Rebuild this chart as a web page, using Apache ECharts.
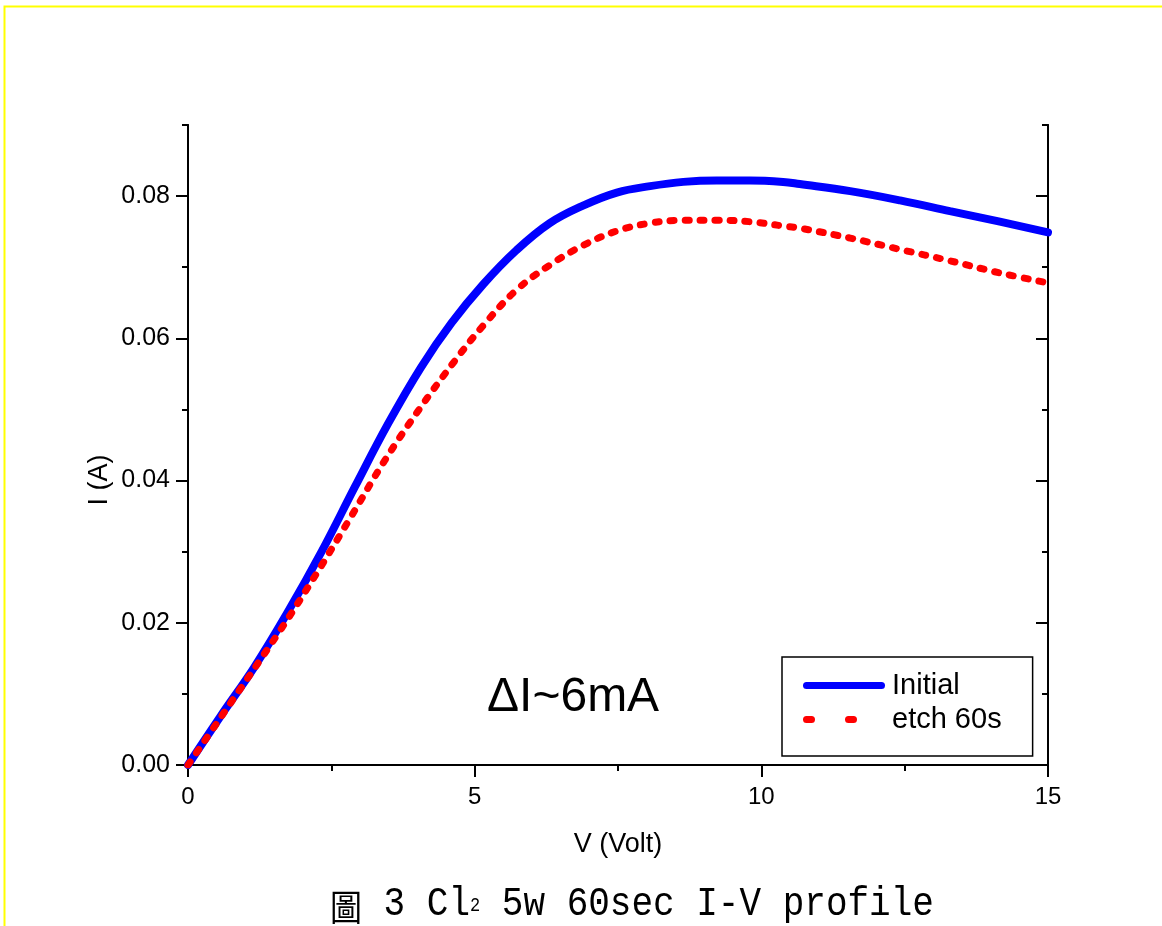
<!DOCTYPE html>
<html>
<head>
<meta charset="utf-8">
<script src="https://cdn.jsdelivr.net/npm/echarts@6/dist/echarts.min.js"></script>
<style>html,body{margin:0;padding:0;background:#fff}#c{width:1162px;height:926px}</style>
</head>
<body>
<div id="c"></div>
<script>
// ---- data ----
const seriesNames = ['Initial', 'etch 60s'];
const initialV = [0, 0.58, 1.16, 1.74, 2.33, 2.91, 3.49, 4.07, 4.60, 5.15, 5.73, 6.31, 6.90, 7.48, 8.06, 8.64, 9.22, 9.80, 10.38, 10.67, 11.55, 12.42, 13.29, 14.16, 15];
const initialI = [0, 0.0070, 0.0138, 0.0215, 0.0300, 0.0391, 0.0480, 0.0560, 0.0622, 0.0676, 0.0724, 0.0762, 0.0787, 0.0805, 0.0814, 0.0820, 0.0822, 0.0822, 0.0820, 0.0817, 0.0807, 0.0794, 0.0779, 0.0764, 0.0749];
const etchV = [0, 0.58, 1.63, 2.24, 2.82, 3.43, 4.04, 4.65, 5.15, 5.73, 6.31, 6.90, 7.48, 8.06, 8.64, 9.22, 9.80, 10.38, 10.67, 11.55, 12.42, 13.29, 14.16, 15];
const etchI = [0, 0.0068, 0.0192, 0.0269, 0.0346, 0.0428, 0.0501, 0.0568, 0.0618, 0.0668, 0.0703, 0.0731, 0.0751, 0.0762, 0.0766, 0.0766, 0.0764, 0.0758, 0.0755, 0.0741, 0.0725, 0.0709, 0.0692, 0.0678];
const yMajorTicks = [0, 0.02, 0.04, 0.06, 0.08];
const yMinorTicks = [0.01, 0.03, 0.05, 0.07, 0.09];
const xAxisName = 'V (Volt)';
const yAxisName = 'I (A)';
const annotation = '\u0394I~6mA';
const caption = ['圖', ' 3 Cl', '2', ' 5w 60sec I-V profile'];

const zip = (a, b) => a.map((v, i) => [v, b[i]]);
const FONT = 'Liberation Sans, Arial, sans-serif';
const lineBlack = { show: true, lineStyle: { color: '#000', width: 2 } };

function xAx(pos, inside, showLabel, showName) {
  return {
    type: 'value', position: pos, min: 0, max: 15, interval: 5, gridIndex: 0,
    axisLine: lineBlack,
    axisTick: { show: true, inside: inside, length: 12, lineStyle: { color: '#000', width: 2 } },
    minorTick: { show: true, splitNumber: 2, length: 6, lineStyle: { color: '#000', width: 2 } },
    axisLabel: { show: showLabel, fontSize: 24, color: '#000', fontFamily: FONT, margin: 20 },
    splitLine: { show: false }, minorSplitLine: { show: false },
    name: showName ? xAxisName : '', nameLocation: 'middle', nameGap: 66, nameMoveOverlap: false,
    nameTextStyle: { fontSize: 27, color: '#000', fontFamily: FONT }
  };
}
function yAx(pos, inside, major, showLabel) {
  return {
    type: 'value', position: pos, min: 0, max: 0.09, interval: 0.01, gridIndex: 0,
    axisLine: lineBlack,
    axisTick: { show: true, inside: inside, length: major ? 12 : 6, customValues: major ? yMajorTicks : yMinorTicks, lineStyle: { color: '#000', width: 2 } },
    axisLabel: { show: showLabel, customValues: yMajorTicks, fontSize: 25, color: '#000', fontFamily: FONT, margin: 18,
      formatter: v => v.toFixed(2) },
    splitLine: { show: false }
  };
}

const chart = echarts.init(document.getElementById('c'), null, { renderer: 'canvas' });
chart.setOption({
  backgroundColor: '#fff',
  animation: false,
  grid: { left: 188, right: 114, top: 125, bottom: 161, containLabel: false },
  xAxis: [xAx('bottom', false, true, true), xAx('top', true, false, false)],
  yAxis: [yAx('left', false, true, true), yAx('left', false, false, false),
          yAx('right', true, true, false), yAx('right', true, false, false)],
  legend: {
    left: 782, top: 657,
    orient: 'vertical', itemWidth: 82, itemHeight: 7, itemGap: 5,
    padding: [14, 31, 22, 21],
    borderColor: '#000', borderWidth: 1.5,
    textStyle: { fontSize: 29, color: '#000', fontFamily: FONT, padding: [0, 0, 0, 2] },
    data: [
      { name: seriesNames[0], icon: 'path://M3.5,0 H78.5 A3.5,3.5 0 0 1 78.5,7 H3.5 A3.5,3.5 0 0 1 3.5,0 Z' },
      { name: seriesNames[1], icon: 'path://M3.5,0 H8.5 A3.5,3.5 0 0 1 8.5,7 H3.5 A3.5,3.5 0 0 1 3.5,0 Z M45.5,0 H50.5 A3.5,3.5 0 0 1 50.5,7 H45.5 A3.5,3.5 0 0 1 45.5,0 Z M82,0 L82,7 L82,0 Z' }
    ]
  },
  series: [
    { name: seriesNames[0], type: 'line', xAxisIndex: 0, yAxisIndex: 0, data: zip(initialV, initialI),
      showSymbol: false, symbol: 'none', smooth: 0.4,
      lineStyle: { color: '#0000ff', width: 8, cap: 'round' }, itemStyle: { color: '#0000ff' } },
    { name: seriesNames[1], type: 'line', xAxisIndex: 0, yAxisIndex: 0, data: zip(etchV, etchI),
      showSymbol: false, symbol: 'none', smooth: 0.4,
      lineStyle: { color: '#ff0000', width: 7, type: [4, 11], cap: 'round' }, itemStyle: { color: '#ff0000' } }
  ],
  graphic: [
    { type: 'rect', silent: true, shape: { x: 4.5, y: 6.5, width: 2000, height: 2000 },
      style: { fill: 'none', stroke: '#ffff00', lineWidth: 2 } },
    { type: 'text', x: 100, y: 480, rotation: Math.PI / 2,
      style: { text: yAxisName, font: '27px ' + FONT, fill: '#000', align: 'center', verticalAlign: 'middle' } },
    { type: 'text', left: 487, top: 674, style: { text: annotation, font: '48px ' + FONT, fill: '#000' } },
    { type: 'text', x: 330, y: 884, scaleY: 1.14,
      style: {
        text: '{c|' + caption[0] + '}{a|' + caption[1] + '}{s|' + caption[2] + '}{a|' + caption[3] + '}',
        rich: {
          c: { font: '32px "Noto Sans CJK TC"', fill: '#000', verticalAlign: 'bottom' },
          a: { font: '36px "Liberation Mono", monospace', fill: '#000', verticalAlign: 'bottom' },
          s: { font: '17px "Liberation Mono", monospace', fill: '#000', verticalAlign: 'bottom', padding: [0, 0, 8, 0] }
        }
      } }
  ]
});
</script>
</body>
</html>
